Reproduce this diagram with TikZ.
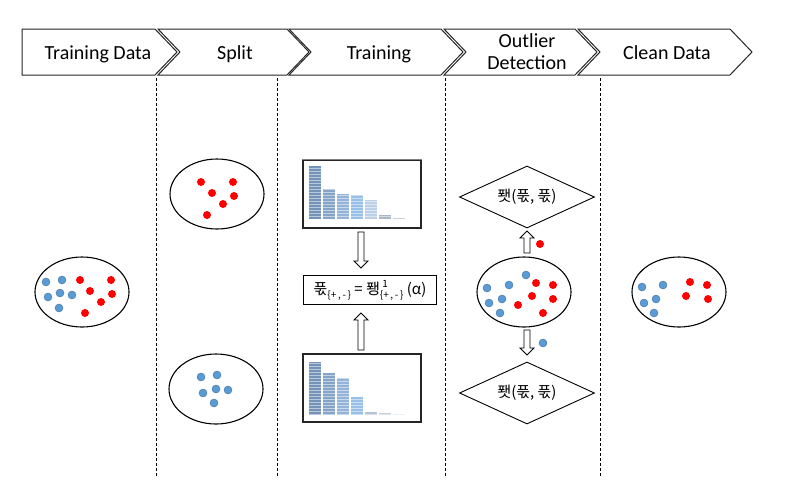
\documentclass[tikz,border=0pt]{standalone}
\usepackage{fontspec}
\setmainfont{Carlito}
\newfontfamily\kr{Noto Sans CJK KR}
\usetikzlibrary{shapes,calc,patterns,positioning}
\definecolor{mblue}{HTML}{5B9BD5}
\definecolor{mbluel}{HTML}{41719C}
\definecolor{mred}{HTML}{FF0000}
\definecolor{hA1}{HTML}{7393B8}
\definecolor{hA2}{HTML}{85A4C8}
\definecolor{hA3}{HTML}{93B3D8}
\definecolor{hA4}{HTML}{98BFE8}
\definecolor{hA5}{HTML}{BCD0EA}
\definecolor{hA6}{HTML}{A9B6C6}
\definecolor{hA7}{HTML}{C8D2DE}
\definecolor{hB5}{HTML}{B4C2D6}
\definecolor{hB6}{HTML}{C6CFDA}
\definecolor{hB7}{HTML}{DCE1E8}
\tikzstyle{blob}=[ellipse, draw=black, line width=1.1, minimum width=94, minimum height=70, inner sep=0]
\tikzstyle{chev}=[draw=black!85, line width=1, fill=white]
\tikzstyle{lbl}=[font=\fontsize{20}{22}\selectfont, align=center, inner sep=0]
\tikzstyle{sep}=[line width=1, dash pattern=on 3pt off 2pt]
\tikzstyle{bdot}=[fill=mblue, draw=mbluel, line width=0.4]
\tikzstyle{rdot}=[fill=mred]
\tikzstyle{hist}=[draw=black!85, line width=1.1, minimum width=118, minimum height=68, inner sep=0]
\tikzstyle{dia}=[diamond, draw=black, line width=0.9, minimum width=135, minimum height=62, aspect=2.2, inner sep=0, font=\kr\fontsize{15}{16}\selectfont]
\tikzstyle{form}=[draw=black, line width=0.9, minimum width=133, minimum height=29, inner sep=0, font=\kr\fontsize{15}{16}\selectfont]
\tikzstyle{blk}=[draw=black, line width=0.8, fill=white, to path={
  ($(\tikztostart)!3pt!90:(\tikztotarget)$)
  -- ($(\tikztotarget)!7pt!(\tikztostart)!3pt!90:(\tikztotarget)$)
  -- ($(\tikztotarget)!7pt!(\tikztostart)!7pt!90:(\tikztotarget)$)
  -- (\tikztotarget)
  -- ($(\tikztotarget)!7pt!(\tikztostart)!7pt!-90:(\tikztotarget)$)
  -- ($(\tikztotarget)!7pt!(\tikztostart)!3pt!-90:(\tikztotarget)$)
  -- ($(\tikztostart)!3pt!-90:(\tikztotarget)$) -- cycle}]
\newcommand{\sgnset}{{\fontsize{10}{10}\selectfont\{+\,,\,-\,\}}}
\newcommand{\sgnsup}{{\fontsize{10}{10}\selectfont 1}}

\begin{document}
\begin{tikzpicture}[x=1pt, y=-1pt]
    \useasboundingbox (0,0) rectangle (792,493);

    % header
    \draw[chev] (22,29) -- (155,29) -- (177,52) -- (155,75) -- (22,75) -- cycle;
    \foreach \a/\b in {158/287, 289/441, 444/575, 578/730}
        \draw[chev] (\a,29) -- (\b,29) -- ({\b+22},52) -- (\b,75) -- (\a,75) -- ({\a+22},52) -- cycle;
    \node[lbl, anchor=base] (h1) at (98,59) {Training Data};
    \node[lbl, anchor=base] (h2) at (235,59) {Split};
    \node[lbl, anchor=base] (h3) at (379,59) {Training};
    \node[lbl] (h4) at (527,52) {Outlier\\Detection};
    \node[lbl, anchor=base] (h5) at (667,59) {Clean Data};

    \foreach \x in {156,277,445,600}
        \draw[sep] (\x,78) -- (\x,476);

    % data sets
    \node[blob] (raw) at (82,292) {};
    \node[blob] (pos) at (217,194) {};
    \node[blob] (neg) at (216,389) {};
    \node[blob] (mix) at (524,292) {};
    \node[blob] (clean) at (679,292) {};

    \foreach \p in {(46,282),(62,280),(48,297),(60,293),(72,295),(59,308),
                    (201,377),(217,375),(203,393),(216,389),(228,390),(214,403),
                    (526,275),(487,288),(509,285),(489,303),(502,299),(500,313),(543,343),
                    (642,287),(663,285),(644,303),(656,299),(654,313)}
        \fill[bdot] \p circle (4);
    \foreach \p in {(80,280),(111,280),(90,291),(112,294),(101,302),(85,313),
                    (201,182),(233,182),(212,193),(234,196),(223,204),(207,215),
                    (536,283),(553,285),(532,296),(553,299),(518,305),(543,313),(540,244),
                    (690,282),(707,285),(686,296),(708,299)}
        \fill[rdot] \p circle (4);

    % histograms
    \node[hist] (histA) at (362,194) {};
    \node[hist] (histB) at (362,388) {};
    \foreach \x/\h/\c in {309/166/hA1, 323/189/hA2, 337/194/hA3, 351/195/hA4, 365/200/hA5, 379/215/hA6, 393/218/hA7}{
        \fill[\c] (\x,219) rectangle ({\x+12},\h);
        \fill[pattern=horizontal lines, pattern color=white, opacity=0.5] (\x,219) rectangle ({\x+12},\h);
    }
    \foreach \x/\h/\c in {309/362/hA1, 323/373/hA2, 337/378/hA3, 351/397/hA4, 365/412/hB5, 379/413/hB6, 393/414/hB7}{
        \fill[\c] (\x,415) rectangle ({\x+12},\h);
        \fill[pattern=horizontal lines, pattern color=white, opacity=0.5] (\x,415) rectangle ({\x+12},\h);
    }
    \draw[gray, line width=1.3] (histA.north west) -- (histA.north east);

    \node[form] (thr) at (370,290) {푻\raisebox{-4pt}{\sgnset} = 퐹\rlap{\raisebox{7pt}{\,\sgnsup}}\raisebox{-4pt}{\sgnset} (α)};

    \node[dia] (dup) at (527,197) {퐷(푻, 푻)};
    \node[dia] (ddown) at (527,393) {퐷(푻, 푻)};

    % arrows
    \coordinate (a1s) at (361,232);
    \coordinate (a1e) at (361,268);
    \coordinate (a2s) at (361,350);
    \coordinate (a2e) at (361,313);
    \coordinate (a3s) at (527,253);
    \coordinate (a3e) at (527,231);
    \coordinate (a4s) at (527,330);
    \coordinate (a4e) at (527,355);
    \path[blk] (a1s) to (a1e);
    \path[blk] (a2s) to (a2e);
    \path[blk] (a3s) to (a3e);
    \path[blk] (a4s) to (a4e);
\end{tikzpicture}
\end{document}
